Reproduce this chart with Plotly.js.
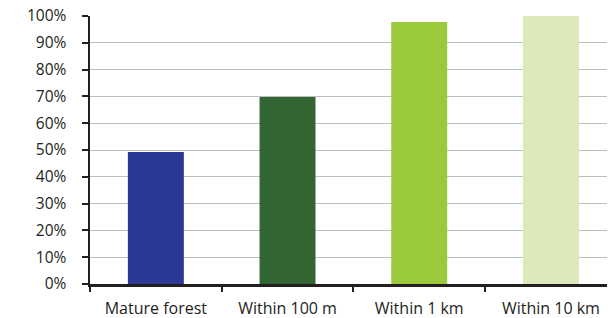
<!DOCTYPE html>
<html>
<head>
<meta charset="utf-8">
<script src="https://cdn.plot.ly/plotly-3.0.1.min.js"></script>
<style>html,body{margin:0;padding:0;background:#fff;}#chart{width:610px;height:318px;}</style>
</head>
<body>
<div id="chart"></div>
<script>
const categories = ["Mature forest", "Within 100 m", "Within 1 km", "Within 10 km"];
const values = [49.3, 69.8, 97.8, 100.3];
const barColors = ["#2b3894", "#346634", "#9bc93c", "#dce9b9"];
const yTickVals = [0, 10, 20, 30, 40, 50, 60, 70, 80, 90, 100];
const yTickText = ["0%", "10%", "20%", "30%", "40%", "50%", "60%", "70%", "80%", "90%", "100%"];

const trace = {
  type: "bar",
  x: categories,
  y: values,
  marker: { color: barColors, line: { width: 0 } },
  width: 0.425,
  hoverinfo: "skip"
};

const layout = {
  width: 610,
  height: 318,
  margin: { l: 90, r: 3, t: 16, b: 34, pad: 0 },
  paper_bgcolor: "#ffffff",
  plot_bgcolor: "#ffffff",
  showlegend: false,
  font: { family: "Open Sans, sans-serif", size: 15.5, color: "#231f20" },
  xaxis: {
    type: "category",
    range: [-0.5, 3.426],
    showline: true,
    linecolor: "#231f20",
    linewidth: 2.5,
    ticks: "outside",
    tickson: "boundaries",
    ticklen: 5,
    tickwidth: 2,
    tickcolor: "#231f20",
    showgrid: false,
    zeroline: false,
    tickfont: { size: 16, color: "#231f20" },
    ticklabelstandoff: 8
  },
  yaxis: {
    range: [0, 100],
    tickvals: yTickVals,
    ticktext: yTickText,
    showline: true,
    linecolor: "#231f20",
    linewidth: 2.5,
    ticks: "outside",
    ticklen: 6,
    tickwidth: 2,
    tickcolor: "#231f20",
    showgrid: true,
    gridcolor: "#bcbec0",
    gridwidth: 1,
    zeroline: false,
    tickfont: { size: 15.5, color: "#231f20" },
    ticklabelstandoff: 12
  }
};

Plotly.newPlot("chart", [trace], layout, { staticPlot: true, displayModeBar: false });
</script>
</body>
</html>
